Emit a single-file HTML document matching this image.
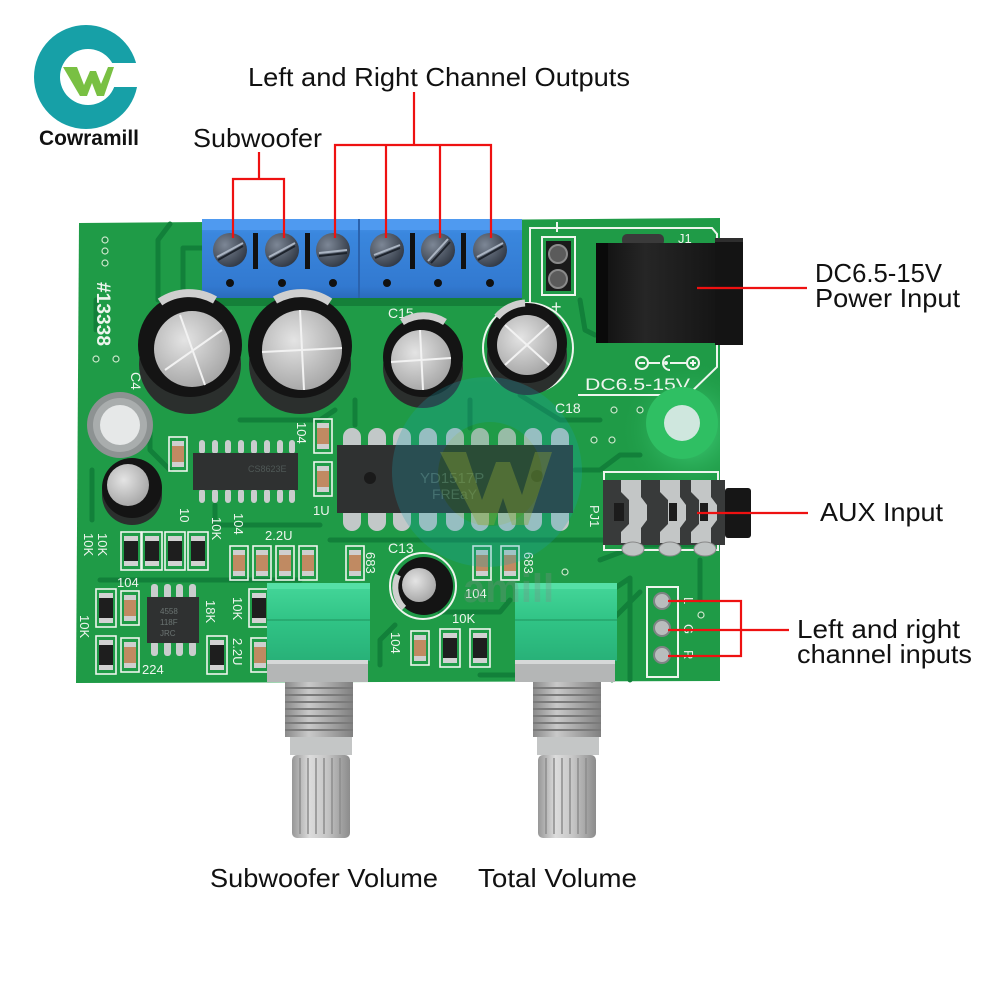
<!DOCTYPE html>
<html><head><meta charset="utf-8"><style>
html,body{margin:0;padding:0;background:#fff;}
svg{display:block;}
text{font-family:"Liberation Sans",sans-serif;}
</style></head><body>
<svg xmlns="http://www.w3.org/2000/svg" width="1000" height="1000" viewBox="0 0 1000 1000">
<defs>
 <radialGradient id="silv" cx="40%" cy="38%" r="70%"><stop offset="0" stop-color="#e4e4e4"/><stop offset="1" stop-color="#a2a2a2"/></radialGradient>
 <radialGradient id="scr" cx="35%" cy="35%" r="75%"><stop offset="0" stop-color="#7d8796"/><stop offset="1" stop-color="#2c3440"/></radialGradient>
 <linearGradient id="blue" x1="0" y1="0" x2="0" y2="1"><stop offset="0" stop-color="#4d98ec"/><stop offset="0.18" stop-color="#3a87de"/><stop offset="0.85" stop-color="#3279d0"/><stop offset="1" stop-color="#2a6bbd"/></linearGradient>
 <linearGradient id="shaft" x1="0" y1="0" x2="1" y2="0"><stop offset="0" stop-color="#979797"/><stop offset="0.3" stop-color="#dcdcdc"/><stop offset="0.6" stop-color="#c6c6c6"/><stop offset="1" stop-color="#8c8c8c"/></linearGradient>
 <linearGradient id="thr" x1="0" y1="0" x2="1" y2="0"><stop offset="0" stop-color="#8a8a8a"/><stop offset="0.35" stop-color="#c9c9c9"/><stop offset="1" stop-color="#808080"/></linearGradient>
 <linearGradient id="potg" x1="0" y1="0" x2="0" y2="1"><stop offset="0" stop-color="#45d79a"/><stop offset="0.5" stop-color="#30c385"/><stop offset="1" stop-color="#28b178"/></linearGradient>
 <linearGradient id="jackg" x1="0" y1="0" x2="1" y2="0"><stop offset="0" stop-color="#0e0e0e"/><stop offset="0.4" stop-color="#262626"/><stop offset="1" stop-color="#151515"/></linearGradient>
 <radialGradient id="glow" cx="50%" cy="50%" r="50%"><stop offset="0" stop-color="#4be08a" stop-opacity="0.9"/><stop offset="1" stop-color="#1f9b47" stop-opacity="0"/></radialGradient>
 <clipPath id="boardclip"><polygon points="79,223 720,218 720,681 76,683"/></clipPath>
</defs>

<!-- ===== Logo ===== -->
<circle cx="86" cy="77" r="52" fill="#17a0a7"/>
<circle cx="88" cy="77" r="28" fill="#fff"/>
<rect x="100" y="63" width="45" height="24" fill="#fff"/>
<polygon points="63,67 77,67 84,85 90,71 96,71 101,84 108,67 114,67 104,96 97,96 92,83 87,96 80,96" fill="#79c043"/>
<text x="39" y="145" font-size="21" font-weight="bold" fill="#111" textLength="100" lengthAdjust="spacingAndGlyphs">Cowramill</text>

<!-- ===== Labels ===== -->
<text x="248" y="86" font-size="26" fill="#111" textLength="382" lengthAdjust="spacingAndGlyphs">Left and Right Channel Outputs</text>
<text x="193" y="147" font-size="26" fill="#111" textLength="129" lengthAdjust="spacingAndGlyphs">Subwoofer</text>
<text x="815" y="282" font-size="26" fill="#111" textLength="127" lengthAdjust="spacingAndGlyphs">DC6.5-15V</text>
<text x="815" y="307" font-size="26" fill="#111" textLength="145" lengthAdjust="spacingAndGlyphs">Power Input</text>
<text x="820" y="521" font-size="26" fill="#111" textLength="123" lengthAdjust="spacingAndGlyphs">AUX Input</text>
<text x="797" y="638" font-size="26" fill="#111" textLength="163" lengthAdjust="spacingAndGlyphs">Left and right</text>
<text x="797" y="663" font-size="26" fill="#111" textLength="175" lengthAdjust="spacingAndGlyphs">channel inputs</text>
<text x="210" y="887" font-size="26" fill="#111" textLength="228" lengthAdjust="spacingAndGlyphs">Subwoofer Volume</text>
<text x="478" y="887" font-size="26" fill="#111" textLength="159" lengthAdjust="spacingAndGlyphs">Total Volume</text>

<!-- ===== Board ===== -->
<polygon points="79,223 720,218 720,681 76,683" fill="#1f9b47"/>
<circle cx="690" cy="430" r="70" fill="url(#glow)" clip-path="url(#boardclip)"/>

<!-- traces -->
<g fill="none" stroke="#12803a" stroke-width="5" stroke-linejoin="round" stroke-linecap="round">
 <path d="M170,224 L158,240 L158,300"/>
 <path d="M205,248 L183,248 L183,290"/>
 <path d="M96,300 L96,330"/>
 <path d="M150,420 L150,450 L170,470"/>
 <path d="M240,420 L320,420 L335,410"/>
 <path d="M355,400 L355,425"/>
 <path d="M470,400 L470,428"/>
 <path d="M520,395 L560,420 L600,420"/>
 <path d="M330,540 L620,540"/>
 <path d="M575,470 L600,470 L620,455 L640,455"/>
 <path d="M600,560 L640,545 L712,545"/>
 <path d="M590,605 L630,578 L630,680"/>
 <path d="M612,680 L612,620 L640,592"/>
 <path d="M92,470 L92,520"/>
 <path d="M100,580 L300,580"/>
 <path d="M215,505 L215,525 L320,525"/>
 <path d="M440,612 L500,612 L510,600"/>
 <path d="M380,665 L380,640 L395,625"/>
 <path d="M480,675 L515,675"/>
 <path d="M580,300 L585,330 L595,335"/>
 <path d="M700,560 L700,600"/>
</g>
<!-- vias -->
<g fill="#1a8a40" stroke="#c9e8c9" stroke-width="1.2">
 <circle cx="105" cy="240" r="3"/><circle cx="105" cy="251" r="3"/><circle cx="105" cy="263" r="3"/>
 <circle cx="96" cy="359" r="3"/><circle cx="116" cy="359" r="3"/>
 <circle cx="640" cy="410" r="3"/><circle cx="662" cy="410" r="3"/><circle cx="614" cy="410" r="3"/>
 <circle cx="594" cy="440" r="3"/><circle cx="612" cy="440" r="3"/>
 <circle cx="701" cy="615" r="3"/>
 <circle cx="565" cy="572" r="3"/>
</g>

<!-- silkscreen outlines -->
<g fill="none" stroke="#eef5ee" stroke-width="2">
 <path d="M530,305 L530,228 L712,228 L717,234 L717,367 L688,395 L578,395"/>
 <line x1="557" y1="222" x2="557" y2="232"/>
 <rect x="542" y="237" width="33" height="58"/>
 <circle cx="528" cy="348" r="45"/>
 <circle cx="423" cy="586" r="33"/>
 <rect x="604" y="472" width="114" height="78"/>
 <rect x="647" y="587" width="31" height="90"/>
</g>

<!-- ===== Blue terminal block ===== -->
<rect x="202" y="296" width="320" height="10" fill="#0f6e30" opacity="0.6"/>
<rect x="202" y="219" width="320" height="79" fill="url(#blue)"/>
<rect x="202" y="219" width="320" height="11" fill="#4f9af0"/>
<line x1="359" y1="219" x2="359" y2="298" stroke="#2a62ad" stroke-width="2"/>
<g fill="#111">
 <rect x="253" y="233" width="5" height="36"/><rect x="305" y="233" width="5" height="36"/>
 <rect x="410" y="233" width="5" height="36"/><rect x="461" y="233" width="5" height="36"/>
 <circle cx="230" cy="283" r="4"/><circle cx="282" cy="283" r="4"/><circle cx="333" cy="283" r="4"/>
 <circle cx="387" cy="283" r="4"/><circle cx="438" cy="283" r="4"/><circle cx="490" cy="283" r="4"/>
</g>
<g>
 <g transform="translate(230,250)"><circle r="17" fill="url(#scr)"/><line x1="-13" y1="7" x2="13" y2="-7" stroke="#aab4c2" stroke-width="2"/><line x1="-12" y1="10" x2="13" y2="-4" stroke="#1d232c" stroke-width="2"/></g>
 <g transform="translate(282,250)"><circle r="17" fill="url(#scr)"/><line x1="-13" y1="7" x2="13" y2="-7" stroke="#aab4c2" stroke-width="2"/><line x1="-12" y1="10" x2="13" y2="-4" stroke="#1d232c" stroke-width="2"/></g>
 <g transform="translate(333,250)"><circle r="17" fill="url(#scr)"/><line x1="-14" y1="3" x2="14" y2="0" stroke="#aab4c2" stroke-width="2"/><line x1="-14" y1="6" x2="14" y2="3" stroke="#1d232c" stroke-width="2"/></g>
 <g transform="translate(387,250)"><circle r="17" fill="url(#scr)"/><line x1="-13" y1="5" x2="13" y2="-5" stroke="#aab4c2" stroke-width="2"/><line x1="-12" y1="8" x2="13" y2="-2" stroke="#1d232c" stroke-width="2"/></g>
 <g transform="translate(438,250)"><circle r="17" fill="url(#scr)"/><line x1="-10" y1="11" x2="10" y2="-11" stroke="#aab4c2" stroke-width="2"/><line x1="-7" y1="13" x2="12" y2="-8" stroke="#1d232c" stroke-width="2"/></g>
 <g transform="translate(490,250)"><circle r="17" fill="url(#scr)"/><line x1="-13" y1="7" x2="13" y2="-7" stroke="#aab4c2" stroke-width="2"/><line x1="-12" y1="10" x2="13" y2="-4" stroke="#1d232c" stroke-width="2"/></g>
</g>

<!-- ===== DC jack & 2-pin header ===== -->
<rect x="546" y="241" width="25" height="50" fill="#1a1a1a"/>
<circle cx="558" cy="254" r="9" fill="#5b5b5b" stroke="#8a8a8a" stroke-width="2"/>
<circle cx="558" cy="279" r="9" fill="#5b5b5b" stroke="#8a8a8a" stroke-width="2"/>
<text x="551" y="313" font-size="18" fill="#eef5ee">+</text>
<rect x="622" y="234" width="42" height="12" rx="5" fill="#3a3a3a"/>
<rect x="596" y="243" width="122" height="100" fill="url(#jackg)"/>
<rect x="596" y="243" width="12" height="100" fill="#0a0a0a"/>
<rect x="715" y="238" width="28" height="107" fill="#141414"/>
<rect x="715" y="238" width="28" height="4" fill="#2e2e2e"/>
<text x="678" y="243" font-size="13" fill="#eef5ee">J1</text>
<g fill="none" stroke="#eef5ee" stroke-width="2">
 <circle cx="642" cy="363" r="6"/><circle cx="693" cy="363" r="6"/>
 <line x1="648" y1="363" x2="660" y2="363"/><line x1="670" y1="363" x2="687" y2="363"/>
 <path d="M670,356 A7,7 0 1 0 670,370"/>
</g>
<line x1="639" y1="363" x2="645" y2="363" stroke="#eef5ee" stroke-width="2"/>
<line x1="690" y1="363" x2="696" y2="363" stroke="#eef5ee" stroke-width="2"/>
<line x1="693" y1="360" x2="693" y2="366" stroke="#eef5ee" stroke-width="2"/>
<circle cx="666" cy="363" r="2" fill="#eef5ee"/>
<text x="585" y="390" font-size="17" fill="#eef5ee" textLength="105" lengthAdjust="spacingAndGlyphs">DC6.5-15V</text>

<!-- mounting holes -->
<circle cx="120" cy="425" r="33" fill="#8d9292"/>
<circle cx="120" cy="425" r="27" fill="#a9adad"/>
<circle cx="120" cy="425" r="20" fill="#e6e8e8"/>
<circle cx="682" cy="423" r="36" fill="#2fbf63"/>
<circle cx="682" cy="423" r="18" fill="#cfe7de"/>

<!-- ===== Capacitors ===== -->
<ellipse cx="190" cy="364" rx="51" ry="50" fill="#2b2f2d"/>
<circle cx="190" cy="345" r="52" fill="#141414"/>
<path d="M160,302 A52,52 0 0 1 215,300" stroke="#cfcfcf" stroke-width="8" fill="none"/>
<circle cx="192" cy="349" r="38" fill="url(#silv)"/>
<line x1="165" y1="370" x2="222" y2="330" stroke="#f2f2f2" stroke-width="2"/>
<line x1="180" y1="315" x2="205" y2="385" stroke="#f2f2f2" stroke-width="2"/>
<text x="131" y="372" font-size="14" fill="#eef5ee" transform="rotate(90 131 372)">C4</text>

<ellipse cx="300" cy="364" rx="51" ry="50" fill="#2b2f2d"/>
<circle cx="300" cy="346" r="52" fill="#141414"/>
<path d="M275,300 A52,52 0 0 1 330,302" stroke="#cfcfcf" stroke-width="8" fill="none"/>
<circle cx="302" cy="350" r="40" fill="url(#silv)"/>
<line x1="262" y1="352" x2="342" y2="348" stroke="#f2f2f2" stroke-width="2"/>
<line x1="300" y1="310" x2="304" y2="390" stroke="#f2f2f2" stroke-width="2"/>
<text x="388" y="318" font-size="14" fill="#eef5ee">C15</text>

<ellipse cx="423" cy="368" rx="40" ry="40" fill="#2b2f2d"/>
<circle cx="423" cy="357" r="40" fill="#141414"/>
<path d="M402,322 A40,40 0 0 1 445,322" stroke="#cfcfcf" stroke-width="7" fill="none"/>
<circle cx="421" cy="360" r="30" fill="url(#silv)"/>
<line x1="391" y1="362" x2="451" y2="358" stroke="#f2f2f2" stroke-width="2"/>
<line x1="420" y1="330" x2="423" y2="390" stroke="#f2f2f2" stroke-width="2"/>

<ellipse cx="527" cy="355" rx="40" ry="40" fill="#2b2f2d"/>
<circle cx="527" cy="343" r="40" fill="#141414"/>
<path d="M497,317 A40,40 0 0 1 525,303" stroke="#cfcfcf" stroke-width="7" fill="none"/>
<circle cx="527" cy="345" r="30" fill="url(#silv)"/>
<line x1="505" y1="325" x2="549" y2="365" stroke="#f2f2f2" stroke-width="2"/>
<line x1="505" y1="365" x2="549" y2="325" stroke="#f2f2f2" stroke-width="2"/>
<text x="555" y="413" font-size="14" fill="#eef5ee">C18</text>

<ellipse cx="132" cy="495" rx="30" ry="30" fill="#2b2f2d"/>
<circle cx="132" cy="488" r="30" fill="#141414"/>
<circle cx="128" cy="485" r="21" fill="url(#silv)"/>

<circle cx="424" cy="586" r="29" fill="#141414"/>
<path d="M398,575 A29,29 0 0 0 404,608" stroke="#cfcfcf" stroke-width="6" fill="none"/>
<circle cx="419" cy="585" r="17" fill="url(#silv)"/>
<text x="388" y="553" font-size="14" fill="#eef5ee">C13</text>

<!-- ===== ICs ===== -->
<g fill="#c2c8c8">
 <path d="M343,447 v-10 a9,9 0 0 1 18,0 v10z"/><path d="M368,447 v-10 a9,9 0 0 1 18,0 v10z"/><path d="M393,447 v-10 a9,9 0 0 1 18,0 v10z"/>
 <path d="M419,447 v-10 a9,9 0 0 1 18,0 v10z"/><path d="M446,447 v-10 a9,9 0 0 1 18,0 v10z"/><path d="M471,447 v-10 a9,9 0 0 1 18,0 v10z"/>
 <path d="M498,447 v-10 a9,9 0 0 1 18,0 v10z"/><path d="M524,447 v-10 a9,9 0 0 1 18,0 v10z"/><path d="M551,447 v-10 a9,9 0 0 1 18,0 v10z"/>
 <path d="M343,512 v10 a9,9 0 0 0 18,0 v-10z"/><path d="M368,512 v10 a9,9 0 0 0 18,0 v-10z"/><path d="M393,512 v10 a9,9 0 0 0 18,0 v-10z"/>
 <path d="M419,512 v10 a9,9 0 0 0 18,0 v-10z"/><path d="M446,512 v10 a9,9 0 0 0 18,0 v-10z"/><path d="M471,512 v10 a9,9 0 0 0 18,0 v-10z"/>
 <path d="M498,512 v10 a9,9 0 0 0 18,0 v-10z"/><path d="M524,512 v10 a9,9 0 0 0 18,0 v-10z"/><path d="M551,512 v10 a9,9 0 0 0 18,0 v-10z"/>
</g>
<rect x="337" y="445" width="236" height="68" fill="#2f3131"/>
<circle cx="370" cy="478" r="6" fill="#1a1a1a"/><circle cx="537" cy="476" r="6" fill="#1a1a1a"/>
<text x="420" y="483" font-size="15" fill="#55605c">YD1517P</text>
<text x="432" y="499" font-size="14" fill="#55605c">FREaY</text>
<text x="313" y="515" font-size="13" fill="#eef5ee">1U</text>

<g fill="#c9cdcd">
 <rect x="199" y="440" width="6" height="14" rx="3"/><rect x="212" y="440" width="6" height="14" rx="3"/><rect x="225" y="440" width="6" height="14" rx="3"/><rect x="238" y="440" width="6" height="14" rx="3"/>
 <rect x="251" y="440" width="6" height="14" rx="3"/><rect x="264" y="440" width="6" height="14" rx="3"/><rect x="277" y="440" width="6" height="14" rx="3"/><rect x="289" y="440" width="6" height="14" rx="3"/>
 <rect x="199" y="489" width="6" height="14" rx="3"/><rect x="212" y="489" width="6" height="14" rx="3"/><rect x="225" y="489" width="6" height="14" rx="3"/><rect x="238" y="489" width="6" height="14" rx="3"/>
 <rect x="251" y="489" width="6" height="14" rx="3"/><rect x="264" y="489" width="6" height="14" rx="3"/><rect x="277" y="489" width="6" height="14" rx="3"/><rect x="289" y="489" width="6" height="14" rx="3"/>
</g>
<rect x="193" y="453" width="105" height="37" fill="#2f3131"/>
<text x="248" y="472" font-size="9" fill="#4f5856">CS8623E</text>

<g fill="#c9cdcd">
 <rect x="151" y="584" width="7" height="15" rx="3"/><rect x="164" y="584" width="7" height="15" rx="3"/><rect x="176" y="584" width="7" height="15" rx="3"/><rect x="189" y="584" width="7" height="15" rx="3"/>
 <rect x="151" y="641" width="7" height="15" rx="3"/><rect x="164" y="641" width="7" height="15" rx="3"/><rect x="176" y="641" width="7" height="15" rx="3"/><rect x="189" y="641" width="7" height="15" rx="3"/>
</g>
<rect x="147" y="597" width="52" height="46" fill="#2f3131"/>
<text x="160" y="614" font-size="8" fill="#6b7472">4558</text>
<text x="160" y="625" font-size="8" fill="#6b7472">118F</text>
<text x="160" y="636" font-size="8" fill="#6b7472">JRC</text>

<!-- ===== SMD parts ===== -->
<g stroke="#eef5ee" stroke-width="1.6" fill="none">
 <rect x="169" y="437" width="18" height="34"/>
 <rect x="314" y="419" width="18" height="34"/><rect x="314" y="462" width="18" height="34"/>
 <rect x="121" y="532" width="20" height="38"/><rect x="142" y="532" width="20" height="38"/><rect x="165" y="532" width="20" height="38"/><rect x="188" y="532" width="20" height="38"/>
 <rect x="230" y="546" width="18" height="34"/><rect x="253" y="546" width="18" height="34"/><rect x="276" y="546" width="18" height="34"/><rect x="299" y="546" width="18" height="34"/>
 <rect x="346" y="546" width="18" height="34"/><rect x="473" y="546" width="18" height="34"/><rect x="501" y="546" width="18" height="34"/>
 <rect x="96" y="589" width="20" height="38"/><rect x="121" y="591" width="18" height="34"/>
 <rect x="96" y="636" width="20" height="38"/><rect x="121" y="638" width="18" height="34"/>
 <rect x="207" y="636" width="20" height="38"/>
 <rect x="249" y="589" width="20" height="38"/><rect x="251" y="638" width="18" height="34"/>
 <rect x="411" y="631" width="18" height="34"/><rect x="440" y="629" width="20" height="38"/><rect x="470" y="629" width="20" height="38"/>
</g>
<g>
 <g fill="#cfcfcf">
  <rect x="172" y="441" width="12" height="26"/><rect x="317" y="423" width="12" height="26"/><rect x="317" y="466" width="12" height="26"/>
  <rect x="233" y="550" width="12" height="26"/><rect x="256" y="550" width="12" height="26"/><rect x="279" y="550" width="12" height="26"/><rect x="302" y="550" width="12" height="26"/>
  <rect x="349" y="550" width="12" height="26"/><rect x="476" y="550" width="12" height="26"/><rect x="504" y="550" width="12" height="26"/>
  <rect x="124" y="595" width="12" height="26"/><rect x="124" y="642" width="12" height="26"/><rect x="254" y="642" width="12" height="26"/><rect x="414" y="635" width="12" height="26"/>
 </g>
 <g fill="#c08a62">
  <rect x="172" y="446" width="12" height="16"/><rect x="317" y="428" width="12" height="16"/><rect x="317" y="471" width="12" height="16"/>
  <rect x="233" y="555" width="12" height="16"/><rect x="256" y="555" width="12" height="16"/><rect x="279" y="555" width="12" height="16"/><rect x="302" y="555" width="12" height="16"/>
  <rect x="349" y="555" width="12" height="16"/><rect x="476" y="555" width="12" height="16"/><rect x="504" y="555" width="12" height="16"/>
  <rect x="124" y="600" width="12" height="16"/><rect x="124" y="647" width="12" height="16"/><rect x="254" y="647" width="12" height="16"/><rect x="414" y="640" width="12" height="16"/>
 </g>
</g>
<g>
 <g fill="#d2d2d2">
  <rect x="124" y="536" width="14" height="30"/><rect x="145" y="536" width="14" height="30"/><rect x="168" y="536" width="14" height="30"/><rect x="191" y="536" width="14" height="30"/>
  <rect x="99" y="593" width="14" height="30"/><rect x="99" y="640" width="14" height="30"/><rect x="210" y="640" width="14" height="30"/>
  <rect x="252" y="593" width="14" height="30"/><rect x="443" y="633" width="14" height="30"/><rect x="473" y="633" width="14" height="30"/>
 </g>
 <g fill="#1e1e1e">
  <rect x="124" y="541" width="14" height="20"/><rect x="145" y="541" width="14" height="20"/><rect x="168" y="541" width="14" height="20"/><rect x="191" y="541" width="14" height="20"/>
  <rect x="99" y="598" width="14" height="20"/><rect x="99" y="645" width="14" height="20"/><rect x="210" y="645" width="14" height="20"/>
  <rect x="252" y="598" width="14" height="20"/><rect x="443" y="638" width="14" height="20"/><rect x="473" y="638" width="14" height="20"/>
 </g>
</g>

<!-- board silkscreen text -->
<g fill="#eef5ee">
 <text x="97" y="282" font-size="19" font-weight="bold" transform="rotate(90 97 282)" textLength="64" lengthAdjust="spacingAndGlyphs">#13338</text>
 <text x="84" y="533" font-size="13" transform="rotate(90 84 533)">10K</text>
 <text x="98" y="533" font-size="13" transform="rotate(90 98 533)">10K</text>
 <text x="80" y="615" font-size="13" transform="rotate(90 80 615)">10K</text>
 <text x="117" y="587" font-size="13">104</text>
 <text x="142" y="674" font-size="13">224</text>
 <text x="180" y="508" font-size="13" transform="rotate(90 180 508)">10</text>
 <text x="212" y="517" font-size="13" transform="rotate(90 212 517)">10K</text>
 <text x="234" y="513" font-size="13" transform="rotate(90 234 513)">104</text>
 <text x="297" y="422" font-size="13" transform="rotate(90 297 422)">104</text>
 <text x="265" y="540" font-size="13">2.2U</text>
 <text x="206" y="600" font-size="13" transform="rotate(90 206 600)">18K</text>
 <text x="233" y="597" font-size="13" transform="rotate(90 233 597)">10K</text>
 <text x="233" y="638" font-size="13" transform="rotate(90 233 638)">2.2U</text>
 <text x="366" y="552" font-size="13" transform="rotate(90 366 552)">683</text>
 <text x="524" y="552" font-size="13" transform="rotate(90 524 552)">683</text>
 <text x="465" y="598" font-size="13">104</text>
 <text x="452" y="623" font-size="13">10K</text>
 <text x="391" y="632" font-size="13" transform="rotate(90 391 632)">104</text>
 <text x="590" y="505" font-size="13" transform="rotate(90 590 505)">PJ1</text>
 <text x="684" y="597" font-size="13" transform="rotate(90 684 597)">L</text>
 <text x="684" y="624" font-size="13" transform="rotate(90 684 624)">G</text>
 <text x="684" y="650" font-size="13" transform="rotate(90 684 650)">R</text>
</g>

<!-- ===== AUX jack ===== -->
<rect x="725" y="488" width="26" height="50" rx="3" fill="#161616"/>
<rect x="603" y="480" width="122" height="65" fill="#383a3a"/>
<g fill="#c3c6c6">
 <polygon points="621,480 641,480 641,497 647,505 647,520 641,528 641,543 621,543 621,532 629,524 629,500 621,492"/>
 <polygon points="660,480 680,480 680,497 686,505 686,520 680,528 680,543 660,543 660,532 668,524 668,500 660,492"/>
 <polygon points="691,480 711,480 711,497 717,505 717,520 711,528 711,543 691,543 691,532 699,524 699,500 691,492"/>
</g>
<g fill="#1c1c1c">
 <rect x="614" y="503" width="10" height="18"/><rect x="669" y="503" width="8" height="18"/><rect x="700" y="503" width="8" height="18"/>
</g>
<g fill="#bfc3c3" stroke="#888" stroke-width="1">
 <ellipse cx="633" cy="549" rx="11" ry="7"/><ellipse cx="670" cy="549" rx="11" ry="7"/><ellipse cx="705" cy="549" rx="11" ry="7"/>
</g>

<!-- LGR pins -->
<g fill="#b9bdbd" stroke="#7e8484" stroke-width="2">
 <circle cx="662" cy="601" r="8"/><circle cx="662" cy="628" r="8"/><circle cx="662" cy="655" r="8"/>
</g>

<!-- ===== Potentiometers ===== -->
<g>
 <rect x="267" y="583" width="103" height="78" fill="url(#potg)"/>
 <rect x="267" y="583" width="103" height="6" fill="#55e0a6"/>
 <line x1="267" y1="620" x2="370" y2="620" stroke="#25a36b" stroke-width="1.5"/>
 <rect x="267" y="660" width="101" height="22" fill="#b4b6b6"/>
 <rect x="267" y="660" width="101" height="4" fill="#d6d8d8"/>
 <rect x="285" y="682" width="68" height="55" fill="url(#thr)"/>
 <g stroke="#7a7a7a" stroke-width="2"><line x1="285" y1="688" x2="353" y2="688"/><line x1="285" y1="695" x2="353" y2="695"/><line x1="285" y1="702" x2="353" y2="702"/><line x1="285" y1="709" x2="353" y2="709"/><line x1="285" y1="716" x2="353" y2="716"/><line x1="285" y1="723" x2="353" y2="723"/><line x1="285" y1="730" x2="353" y2="730"/></g>
 <rect x="290" y="737" width="62" height="18" fill="#c4c6c6"/>
 <rect x="292" y="755" width="58" height="83" rx="5" fill="url(#shaft)"/>
 <g stroke="#8c8c8c" stroke-width="1.5"><line x1="300" y1="758" x2="300" y2="834"/><line x1="308" y1="758" x2="308" y2="834"/><line x1="316" y1="758" x2="316" y2="834"/><line x1="324" y1="758" x2="324" y2="834"/><line x1="332" y1="758" x2="332" y2="834"/><line x1="340" y1="758" x2="340" y2="834"/></g>
</g>
<g transform="translate(248,0)">
 <rect x="267" y="583" width="102" height="78" fill="url(#potg)"/>
 <rect x="267" y="583" width="102" height="6" fill="#55e0a6"/>
 <line x1="267" y1="620" x2="369" y2="620" stroke="#25a36b" stroke-width="1.5"/>
 <rect x="267" y="660" width="100" height="22" fill="#b4b6b6"/>
 <rect x="267" y="660" width="100" height="4" fill="#d6d8d8"/>
 <rect x="285" y="682" width="68" height="55" fill="url(#thr)"/>
 <g stroke="#7a7a7a" stroke-width="2"><line x1="285" y1="688" x2="353" y2="688"/><line x1="285" y1="695" x2="353" y2="695"/><line x1="285" y1="702" x2="353" y2="702"/><line x1="285" y1="709" x2="353" y2="709"/><line x1="285" y1="716" x2="353" y2="716"/><line x1="285" y1="723" x2="353" y2="723"/><line x1="285" y1="730" x2="353" y2="730"/></g>
 <rect x="289" y="737" width="62" height="18" fill="#c4c6c6"/>
 <rect x="290" y="755" width="58" height="83" rx="5" fill="url(#shaft)"/>
 <g stroke="#8c8c8c" stroke-width="1.5"><line x1="298" y1="758" x2="298" y2="834"/><line x1="306" y1="758" x2="306" y2="834"/><line x1="314" y1="758" x2="314" y2="834"/><line x1="322" y1="758" x2="322" y2="834"/><line x1="330" y1="758" x2="330" y2="834"/><line x1="338" y1="758" x2="338" y2="834"/></g>
</g>

<!-- ===== Watermark ===== -->
<g opacity="0.26">
 <circle cx="487" cy="472" r="95" fill="#1aa2b0"/>
 <circle cx="490" cy="474" r="52" fill="#1f9b47"/>
</g>
<polygon points="440,452 466,452 482,500 496,462 510,462 522,495 535,452 552,452 528,525 512,525 503,498 494,525 478,525" fill="#8fa537" opacity="0.38"/>
<text x="463" y="602" font-size="40" font-weight="bold" fill="#7d8f86" opacity="0.3">amill</text>

<!-- ===== Red callout lines ===== -->
<g fill="none" stroke="#ee1111" stroke-width="2.2">
 <path d="M259,152 V179"/>
 <path d="M233,238 V179 H284 V238"/>
 <path d="M414,92 V145"/>
 <path d="M335,238 V145 H491 V238"/>
 <path d="M386,145 V238"/>
 <path d="M440,145 V238"/>
 <path d="M697,288 H807"/>
 <path d="M697,513 H808"/>
 <path d="M668,601 H741 V656 H668"/>
 <path d="M668,630 H789"/>
</g>
</svg>
</body></html>
